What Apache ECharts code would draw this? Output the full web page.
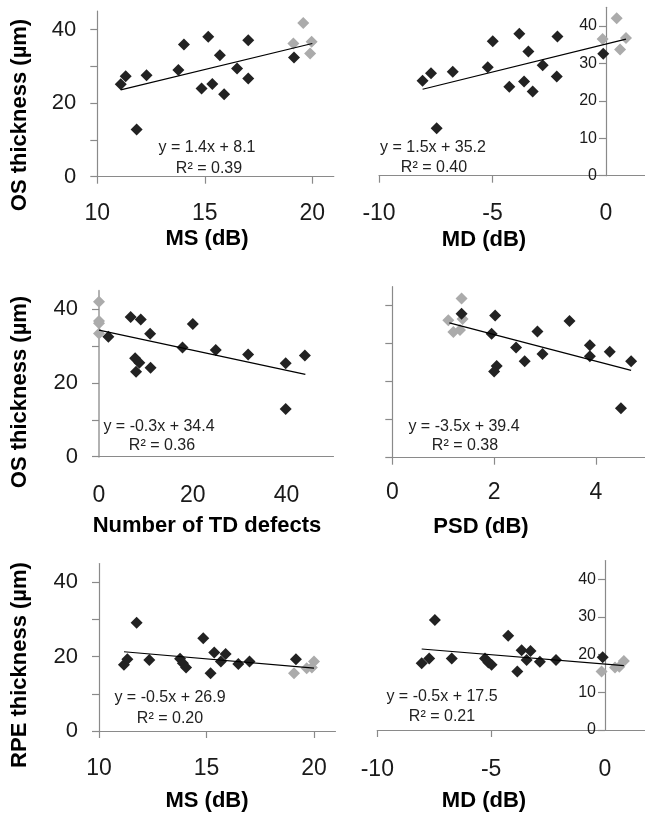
<!DOCTYPE html>
<html><head><meta charset="utf-8">
<script src="https://cdn.jsdelivr.net/npm/echarts@6/dist/echarts.min.js"></script>
<style>html,body{margin:0;padding:0;background:#fff}#c{width:645px;height:817px}</style>
</head><body><div id="c"></div>
<script>
// ---- data ----
const msOsDark = [[11.09,25.1],[11.32,27.3],[11.83,12.85],[12.29,27.6],[13.77,29.0],[14.03,35.9],[14.85,24.0],[15.16,38.0],[15.35,25.2],[15.7,33.0],[15.9,22.4],[16.5,29.4],[17.02,26.7],[17.02,37.1],[19.15,32.4]];
const msOsGray = [[19.12,36.2],[19.58,41.8],[19.97,36.7],[19.9,33.5]];
const msOsTrend = [[11.09,23.6],[20.0,36.2]];

const mdOsDark = [[-8.08,25.4],[-7.71,27.4],[-7.46,12.7],[-6.75,27.8],[-5.21,29.0],[-4.99,35.9],[-4.26,23.8],[-3.82,37.9],[-3.61,25.2],[-3.42,33.2],[-3.23,22.5],[-2.79,29.5],[-2.17,26.5],[-2.14,37.2],[-0.12,32.6]];
const mdOsGray = [[-0.15,36.5],[0.47,42.05],[0.88,36.8],[0.62,33.7]];
const mdOsTrend = [[-8.08,23.1],[0.88,36.5]];

const tdOsDark = [[2.0,32.5],[6.75,37.9],[8.9,37.2],[10.9,33.3],[7.7,26.7],[8.6,25.5],[7.9,23.0],[11.0,24.1],[17.8,29.6],[20.0,36.0],[24.9,28.9],[31.8,27.7],[39.8,25.3],[43.9,27.4],[39.8,12.9]];
const tdOsGray = [[0,42.0],[0,36.2],[0,36.8],[0,33.4]];
const tdOsTrend = [[0,34.3],[44,22.3]];

const psdOsDark = [[1.36,37.9],[2.02,37.4],[1.95,32.6],[2.43,29.0],[2.6,25.4],[2.05,24.1],[2.0,22.7],[2.85,33.2],[2.95,27.3],[3.48,36.0],[3.88,29.6],[3.88,26.7],[4.27,27.9],[4.69,25.4],[4.49,13.0]];
const psdOsGray = [[1.36,41.9],[1.10,36.2],[1.2,33.1],[1.33,33.6],[1.38,36.5]];
const psdOsTrend = [[1.12,35.5],[4.69,23.0]];

const msRpeDark = [[11.16,17.8],[11.32,19.3],[11.75,29.1],[12.34,19.1],[13.77,19.4],[13.9,18.2],[14.05,17.1],[14.85,24.9],[15.19,15.5],[15.36,21.1],[15.67,18.7],[15.89,20.7],[16.48,18.0],[17.0,18.7],[19.16,19.3]];
const msRpeGray = [[19.07,15.5],[19.66,16.9],[19.9,17.1],[20.0,18.7]];
const msRpeTrend = [[11.16,21.3],[20.0,16.9]];

const mdRpeDark = [[-8.05,17.7],[-7.72,19.0],[-7.47,29.2],[-6.73,19.0],[-5.27,19.0],[-5.12,17.9],[-4.98,17.3],[-4.25,25.0],[-3.85,15.5],[-3.66,21.2],[-3.44,18.6],[-3.27,21.0],[-2.86,18.1],[-2.15,18.6],[-0.1,19.3]];
const mdRpeGray = [[-0.15,15.5],[0.44,16.6],[0.63,16.8],[0.83,18.3]];
const mdRpeTrend = [[-8.05,21.5],[0.83,17.1]];

const msTicks = [10,15,20];
const mdTicks = [-10,-5,0];
const tdTicks = [0,20,40];
const psdTicks = [0,2,4];
const yTicks = [0,10,20,30,40];
const yLabelsSparse = [0,20,40];

const xTitles = ['MS (dB)','MD (dB)','Number of TD defects','PSD (dB)','MS (dB)','MD (dB)'];
const yTitles = ['OS thickness (µm)','OS thickness (µm)','RPE thickness (µm)'];
const equations = ['y = 1.4x + 8.1','y = 1.5x + 35.2','y = -0.3x + 34.4','y = -3.5x + 39.4','y = -0.5x + 26.9','y = -0.5x + 17.5'];
const rsq = ['R² = 0.39','R² = 0.40','R² = 0.36','R² = 0.38','R² = 0.20','R² = 0.21'];

// ---- layout ----
const FONT = '"Liberation Sans", Arial, sans-serif';
const AXIS = '#8a8a8a';
const DARK = '#222222';
const GRAY = '#ababab';

const panels = [
  {grid:{left:97.3, top:11.1, width:236.5, height:165.6}, xmin:10, xmax:21, xt:msTicks, xl:msTicks, xm:25,
   yl:yLabelsSparse, yfs:22, ym:21, yoff:0, dark:msOsDark, gray:msOsGray, trend:msOsTrend,
   xt_pos:[207,239], eq:[207,148], r:[209,169]},
  {grid:{left:379, top:7.3, width:272.4, height:168.4}, xmin:-10, xmax:2, xt:[-10,-5], xl:mdTicks, xm:26,
   yl:yTicks, yfs:16, ym:9, yoff:-227, dark:mdOsDark, gray:mdOsGray, trend:mdOsTrend,
   xt_pos:[484,240], eq:[433,148], r:[434,168]},
  {grid:{left:99, top:290.7, width:234.5, height:166}, xmin:0, xmax:50, xt:[], xl:tdTicks, xm:27,
   yl:yLabelsSparse, yfs:22, ym:21, yoff:0, dark:tdOsDark, gray:tdOsGray, trend:tdOsTrend, yAxisColor:'#b2b2b2', yAxisW:2,
   xt_pos:[207,526], eq:[159,427], r:[162,446]},
  {grid:{left:392.3, top:286.7, width:254.6, height:171}, xmin:0, xmax:5, xt:psdTicks, xl:psdTicks, xm:23,
   yl:[], yfs:16, ym:9, yoff:0, dark:psdOsDark, gray:psdOsGray, trend:psdOsTrend,
   xt_pos:[481,527], eq:[464,427], r:[465,446]},
  {grid:{left:99, top:563.6, width:236.5, height:167.4}, xmin:10, xmax:21, xt:msTicks, xl:msTicks, xm:26,
   yl:yLabelsSparse, yfs:22, ym:21, yoff:0, dark:msRpeDark, gray:msRpeGray, trend:msRpeTrend,
   xt_pos:[207,801], eq:[170,698], r:[170,719]},
  {grid:{left:377.3, top:560.5, width:273.2, height:169.5}, xmin:-10, xmax:2, xt:[-10,-5], xl:mdTicks, xm:28,
   yl:yTicks, yfs:16, ym:9, yoff:-227.7, dark:mdRpeDark, gray:mdRpeGray, trend:mdRpeTrend,
   xt_pos:[484,801], eq:[442,697], r:[442,717]}
];

const grids = [], xAxes = [], yAxes = [], series = [], graphics = [];
panels.forEach((p, i) => {
  grids.push(Object.assign({outerBoundsMode:'none', containLabel:false}, p.grid));
  xAxes.push({
    type:'value', gridIndex:i, min:p.xmin, max:p.xmax,
    axisLine:{show:true, onZero:false, lineStyle:{color:AXIS, width:1.2}},
    axisTick:{show:p.xt.length>0, customValues:p.xt, length:7, lineStyle:{color:AXIS, width:1.2}},
    axisLabel:{customValues:p.xl, fontSize:23, margin:p.xm, color:'#1a1a1a', fontFamily:FONT},
    splitLine:{show:false}
  });
  yAxes.push({
    type:'value', gridIndex:i, min:0, max:45, position:'left', offset:p.yoff,
    axisLine:{show:true, onZero:false, lineStyle:{color:p.yAxisColor||AXIS, width:p.yAxisW||1.2}},
    axisTick:{show:true, customValues:yTicks, length:7, lineStyle:{color:AXIS, width:1.2}},
    axisLabel:{show:p.yl.length>0, customValues:p.yl, fontSize:p.yfs, margin:p.ym, color:'#1a1a1a', fontFamily:FONT},
    splitLine:{show:false}
  });
  series.push({type:'scatter', xAxisIndex:i, yAxisIndex:i, data:p.gray, symbol:'diamond', symbolSize:12,
    itemStyle:{color:GRAY, opacity:1}, z:2, silent:true});
  series.push({type:'scatter', xAxisIndex:i, yAxisIndex:i, data:p.dark, symbol:'diamond', symbolSize:12,
    itemStyle:{color:DARK, opacity:1}, z:3, silent:true});
  series.push({type:'line', xAxisIndex:i, yAxisIndex:i, data:p.trend, symbol:'none',
    lineStyle:{color:'#000', width:1.2}, z:5, silent:true});

  graphics.push({type:'text', x:p.xt_pos[0], y:p.xt_pos[1], style:{text:xTitles[i], font:'bold 22px '+FONT,
    fill:'#000', textAlign:'center', textVerticalAlign:'middle'}});
  graphics.push({type:'text', x:p.eq[0], y:p.eq[1], style:{text:equations[i], font:'16px '+FONT,
    fill:'#222', textAlign:'center', textVerticalAlign:'middle'}});
  graphics.push({type:'text', x:p.r[0], y:p.r[1], style:{text:rsq[i], font:'16px '+FONT,
    fill:'#222', textAlign:'center', textVerticalAlign:'middle'}});
});
const yTitlePos = [[20,115],[20,392],[20,665]];
yTitles.forEach((t, k) => {
  graphics.push({type:'text', x:yTitlePos[k][0], y:yTitlePos[k][1], rotation:Math.PI/2,
    style:{text:t, font:'bold 22px '+FONT, fill:'#000', textAlign:'center', textVerticalAlign:'middle'}});
});

const chart = echarts.init(document.getElementById('c'), null, {renderer:'canvas'});
chart.setOption({
  animation:false,
  backgroundColor:'#fff',
  grid:grids, xAxis:xAxes, yAxis:yAxes, series:series,
  graphic:graphics
});
</script></body></html>
